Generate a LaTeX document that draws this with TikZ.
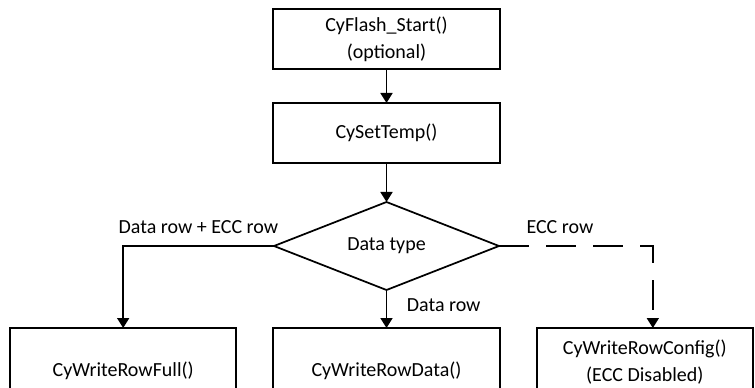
\documentclass[tikz,border=0pt]{standalone}
\usepackage{fontspec}
\setmainfont{Carlito}
\usepackage{tikz}
\usetikzlibrary{arrows.meta}
\usetikzlibrary{shapes.geometric}
\usetikzlibrary{positioning}

\begin{document}
\begin{tikzpicture}[>={Triangle[width=9pt,length=7.5pt]}, x=0.75pt, y=-0.75pt,
	font=\fontsize{15}{20.5}\selectfont]
    \tikzstyle{block} = [draw, line width=1.3pt, minimum width=170pt,
	minimum height=45pt, align=center, inner sep=0pt, outer sep=0pt]
    \tikzstyle{decision} = [draw, line width=1.3pt, diamond, aspect=2.56,
	minimum width=168.75pt, minimum height=66pt, inner sep=0pt, outer sep=0pt]
    \tikzstyle{lbl} = [inner sep=0pt]
    \tikzstyle{elbow} = [to path={-| (\tikztotarget)}]

	\useasboundingbox (0,0) rectangle (755,388);
	\clip (0,0) rectangle (755,388);

	\begin{scope}
		\path[->, line width=1.3pt]
			node[block] (start) at (386.5,39) {CyFlash\_Start()\\(optional)}
			node[block, below=25.5pt of start] (settemp) {CySetTemp()}
			node[decision, below=29.25pt of settemp] (datatype) {Data type}

			node[block, minimum height=64.5pt, below=28.5pt of datatype] (rowdata) {CyWriteRowData()}
			node[block, minimum height=64.5pt, minimum width=169.5pt, left=27.75pt of rowdata] (rowfull) {CyWriteRowFull()}
			node[block, minimum height=51pt, minimum width=162pt, right=27.75pt of rowdata.north east, anchor=north west] (rowconfig) {CyWriteRowConfig()\\(ECC Disabled)}

			node[lbl, anchor=base east] (lblboth) at ([xshift=3.75pt, yshift=9.2pt]datatype.west) {Data row + ECC row}
			node[lbl, anchor=base west] (lblecc) at ([xshift=20pt, yshift=9.2pt]datatype.east) {ECC row}
			node[lbl, anchor=base west] (lbldata) at ([xshift=14.6pt, yshift=-16.3pt]datatype.south) {Data row}

			(start) edge (settemp)
			(settemp) edge (datatype)

			(datatype) edge (rowdata)
			(datatype.west) edge[elbow] (rowfull.north)
			(datatype.east) edge[elbow, dash pattern=on 22.5pt off 12.75pt] ([xshift=6pt]rowconfig.north)
		;
	\end{scope}
\end{tikzpicture}
\end{document}
